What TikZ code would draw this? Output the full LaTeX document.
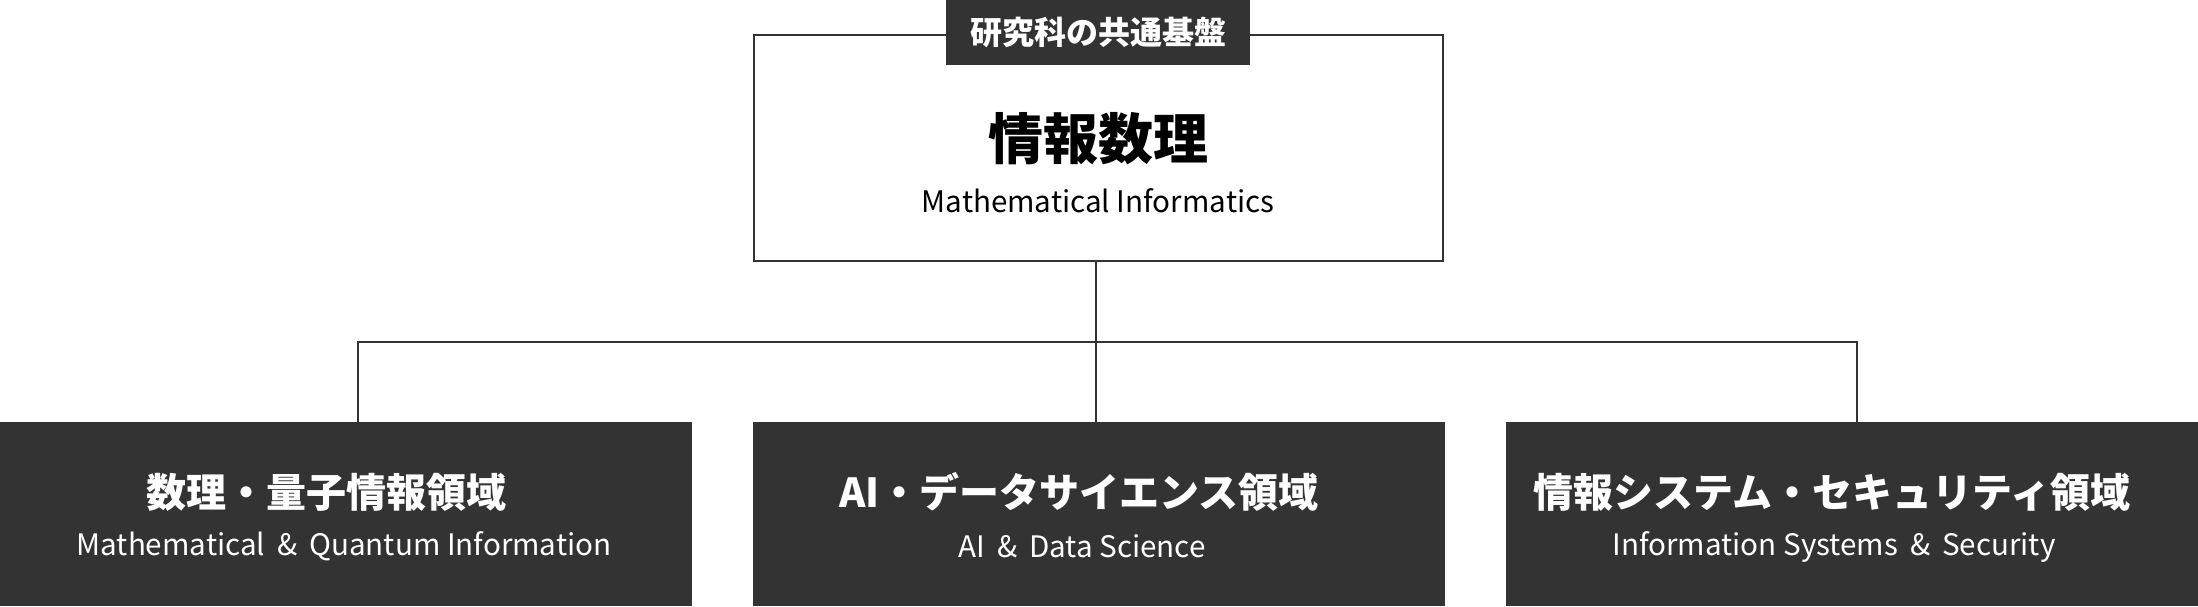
\documentclass[tikz,border=0pt]{standalone}
\usepackage{fontspec}
\usepackage{tikz}
\usetikzlibrary{positioning}
\setmainfont{Noto Sans CJK JP}
\definecolor{ink}{HTML}{333333}
\newcommand{\amp}{\hspace{12pt}\&\hspace{12pt}}
\tikzset{frame/.style = {draw=ink, line width=2pt, minimum width=689pt,
                         minimum height=226pt, inner sep=0pt},
         tag/.style = {fill=ink, text=white, minimum width=304pt,
                       minimum height=65pt, inner sep=0pt,
                       font=\fontsize{32}{38}\selectfont\bfseries},
         areabox/.style = {fill=ink, minimum width=692pt, minimum height=184pt,
                           inner sep=0pt},
         headtext/.style = {text=white, inner sep=0pt,
                            font=\fontsize{40}{48}\selectfont\bfseries},
         subtext/.style = {inner sep=0pt, font=\fontsize{29.6}{36}\selectfont},
         link/.style = {draw=ink, line width=2pt}}

\begin{document}
\begin{tikzpicture}[x=1pt, y=-1pt]
      \useasboundingbox (0, 0) rectangle (2198, 606);
      % core box and its tag
      \node [frame] (core) at (1098, 148) {};
      \node [tag] (coretag) at (1098, 32.5) {研究科の共通基盤};
      \node [headtext, text=black, font=\fontsize{55}{66}\selectfont\bfseries] (coretitle) at (1098, 139) {情報数理};
      \node [subtext] (coresub) at (1098, 201) {Mathematical Informatics};
      % three areas
      \node [areabox] (area1) at (346, 514) {};
      \node [areabox] (area2) at (1098.5, 514) {};
      \node [areabox] (area3) at (1852, 514) {};
      \node [headtext] (area1title) at (326, 492) {数理・量子情報領域};
      \node [subtext, text=white] (area1sub) at (344, 546.5) {Mathematical\amp Quantum Information};
      \node [headtext] (area2title) at (1079, 492) {AI・データサイエンス領域};
      \node [subtext, text=white] (area2sub) at (1082, 546.5) {AI\amp Data Science};
      \node [headtext] (area3title) at (1832, 492) {情報システム・セキュリティ領域};
      \node [subtext, text=white] (area3sub) at (1834, 546.5) {Information Systems\amp Security};
      % tree
      \coordinate (hub) at (1096, 342);
      \coordinate (left) at (358, 342);
      \coordinate (right) at (1857, 342);
      \draw [link] (core.south -| hub) -- (hub |- area2.north);
      \draw [link] (left |- area1.north) -- (left) -- (right) -- (right |- area3.north);
    \end{tikzpicture}
\end{document}
